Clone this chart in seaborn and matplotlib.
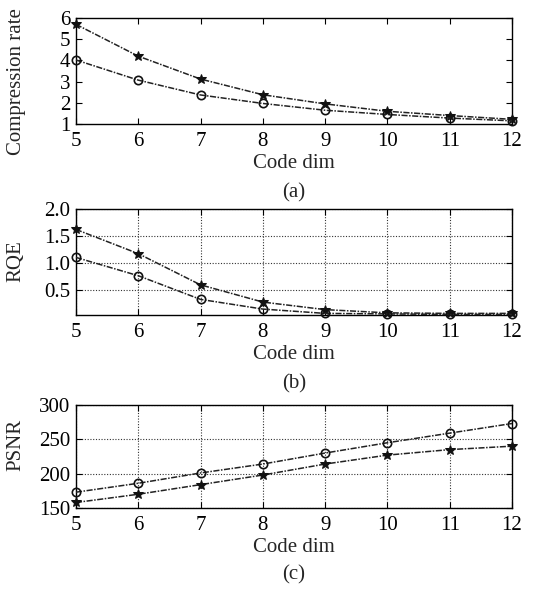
import numpy as np
import pandas as pd
import matplotlib
matplotlib.use("Agg")
import matplotlib.pyplot as plt
import seaborn as sns

code_dim = [5, 6, 7, 8, 9, 10, 11, 12]

# (a) compression rate
cr_star = [5.7, 4.2, 3.12, 2.38, 1.95, 1.6, 1.4, 1.22]
cr_circle = [4.02, 3.07, 2.37, 1.97, 1.65, 1.45, 1.28, 1.15]

# (b) RQE
rqe_star = [1.62, 1.17, 0.59, 0.27, 0.13, 0.07, 0.06, 0.06]
rqe_circle = [1.1, 0.76, 0.32, 0.14, 0.06, 0.05, 0.04, 0.04]

# (c) PSNR
psnr_circle = [173, 186, 201, 214, 230, 245, 259, 273]
psnr_star = [158, 170, 184, 198, 214, 227, 235, 240]

sns.set_theme(style="ticks")
plt.rcParams["font.family"] = ["Liberation Serif", "DejaVu Serif"]

fig = plt.figure(figsize=(5.45, 5.9), dpi=100)

panels = [
    dict(rect=[0.1394, 0.7898, 0.8, 0.1797], star=cr_star, circle=cr_circle,
         ylabel="Compression rate", ylim=(1, 6), yticks=[1, 2, 3, 4, 5, 6],
         yfmt="{:g}", grid=False, tag="(a)", ly=0.40),
    dict(rect=[0.1394, 0.4661, 0.8, 0.1797], star=rqe_star, circle=rqe_circle,
         ylabel="RQE", ylim=(0.03, 2.0), yticks=[0.5, 1.0, 1.5, 2.0],
         yfmt="{:.1f}", grid=True, tag="(b)", ly=0.51),
    dict(rect=[0.1394, 0.139, 0.8, 0.1746], star=psnr_star, circle=psnr_circle,
         ylabel="PSNR", ylim=(150, 300), yticks=[150, 200, 250, 300],
         yfmt="{:g}", grid=True, tag="(c)", ly=0.61),
]

line_style = (0, (4, 1, 1, 1))

for p in panels:
    ax = fig.add_axes(p["rect"])
    df = pd.DataFrame({"dim": code_dim, "star": p["star"], "circle": p["circle"]})
    sns.lineplot(data=df, x="dim", y="star", ax=ax, color="#222222", lw=1.1,
                 linestyle=line_style, marker="*", markersize=7, mec="#111111",
                 mfc="#111111", clip_on=False, zorder=3)
    sns.lineplot(data=df, x="dim", y="circle", ax=ax, color="#222222", lw=1.1,
                 linestyle=line_style, marker="o", markersize=6, mec="#111111",
                 mfc="none", mew=1.2, clip_on=False, zorder=3)
    ax.set_xlim(5, 12)
    ax.set_ylim(*p["ylim"])
    ax.set_xticks(code_dim)
    ax.set_yticks(p["yticks"])
    ax.set_yticklabels([p["yfmt"].format(v) for v in p["yticks"]])
    ax.tick_params(direction="in", top=True, right=True, labelsize=15,
                   length=4, width=0.8, colors="black")
    ax.tick_params(axis="x", pad=6)
    ax.tick_params(axis="y", pad=4)
    for s in ax.spines.values():
        s.set_color("black")
        s.set_linewidth(1.0)
    if p["grid"]:
        ax.grid(True, color="#333333", linestyle=(0, (1, 1.5)), linewidth=0.8)
    ax.set_xlabel("Code dim", fontsize=15, labelpad=2)
    ax.set_ylabel(p["ylabel"], fontsize=15)
    ax.yaxis.set_label_coords(-0.115, p["ly"])
    ax.text(0.5, -0.56, p["tag"], transform=ax.transAxes, ha="center",
            va="top", fontsize=15)

fig.savefig("out.png", dpi=100)
